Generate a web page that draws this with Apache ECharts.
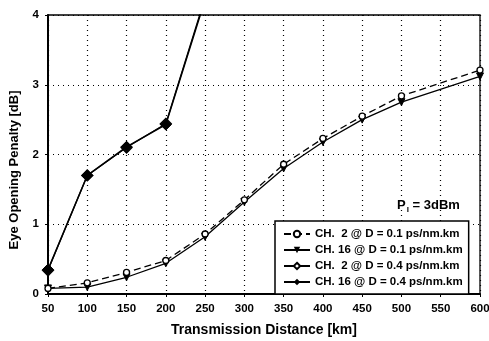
<!DOCTYPE html>
<html><head><meta charset="utf-8">
<script src="https://cdn.jsdelivr.net/npm/echarts@6/dist/echarts.min.js"></script>
<style>html,body{margin:0;padding:0;background:#fff}#c{width:489px;height:341px}</style>
</head><body><div id="c"></div>
<script>
const distances = [50,100,150,200,250,300,350,400,450,500,600];
const ch2_01  = [0.08,0.16,0.31,0.48,0.86,1.35,1.86,2.23,2.55,2.84,3.21];
const ch16_01 = [0.08,0.10,0.24,0.44,0.82,1.32,1.80,2.18,2.50,2.75,3.12];
const distances04 = [50,100,150,200,250];
const ch2_04  = [0.34,1.70,2.10,2.44,4.25];
const ch16_04 = [0.35,1.70,2.11,2.43,4.22];
const names = ['CH.  2 @ D = 0.1 ps/nm.km','CH. 16 @ D = 0.1 ps/nm.km','CH.  2 @ D = 0.4 ps/nm.km','CH. 16 @ D = 0.4 ps/nm.km'];
const xTicks = [50,100,150,200,250,300,350,400,450,500,550,600];
const yTicks = [0,1,2,3,4];

const pair = (xs, ys) => xs.map((x,i)=>[x,ys[i]]);
const font = 'Arial, "Liberation Sans", sans-serif';
const chart = echarts.init(document.getElementById('c'));
chart.setOption({
  animation:false,
  backgroundColor:'#fff',
  grid:{left:48,right:9,top:15,bottom:47,outerBoundsMode:'none',containLabel:false},
  xAxis:{type:'value',min:50,max:600,interval:50,
    name:'Transmission Distance [km]',nameLocation:'middle',nameGap:29,
    nameTextStyle:{fontFamily:font,fontWeight:'bold',fontSize:14,color:'#000'},
    axisLine:{lineStyle:{color:'#000',width:2}},
    axisTick:{show:true,length:3,inside:false,lineStyle:{color:'#000'}},
    axisLabel:{fontFamily:font,fontWeight:'bold',fontSize:11.5,color:'#000',margin:9},
    splitLine:{show:true,lineStyle:{color:'#000',type:[1,4],width:1.2}}},
  yAxis:{type:'value',min:0,max:4,interval:1,
    axisLine:{show:true,lineStyle:{color:'#000',width:2}},
    axisTick:{show:true,length:3,lineStyle:{color:'#000'}},
    axisLabel:{fontFamily:font,fontWeight:'bold',fontSize:11.5,color:'#000',margin:9},
    splitLine:{show:true,lineStyle:{color:'#000',type:[1,4],width:1.2}}},
  legend:{orient:'vertical',left:275,top:221,width:202,
    itemWidth:26,itemHeight:8,itemGap:4,
    padding:[7,6,6,8],
    borderColor:'#000',borderWidth:1.5,backgroundColor:'#fff',
    textStyle:{fontFamily:font,fontWeight:'bold',fontSize:11.5,color:'#000'},
    data:names},
  graphic:[
    {type:'rect',shape:{x:48,y:15,width:432,height:279},style:{fill:'none',stroke:'#000',lineWidth:1.3},silent:true,z:-1},
    {type:'text',x:14,y:170,rotation:Math.PI/2,style:{text:'Eye Opening Penalty [dB]',fontFamily:font,fontWeight:'bold',fontSize:13,fill:'#000',align:'center',verticalAlign:'middle'}},
    {type:'text',left:397,top:199,style:{text:'{a|P}{b|I}{a| = 3dBm}',rich:{a:{fontFamily:font,fontWeight:'bold',fontSize:13,fill:'#000'},b:{fontFamily:font,fontWeight:'bold',fontSize:8,fill:'#000',verticalAlign:'bottom',padding:[8,0,0,1]}}}}
  ],
  series:[
    {name:names[0],type:'line',data:pair(distances,ch2_01),symbol:'circle',symbolSize:6,
     itemStyle:{color:'#fff',borderColor:'#000',borderWidth:1.3},lineStyle:{color:'#000',width:1.3,type:[7,4]},z:3},
    {name:names[1],type:'line',data:pair(distances,ch16_01),symbol:'triangle',symbolRotate:180,symbolSize:7,
     itemStyle:{color:'#000',borderColor:'#000'},lineStyle:{color:'#000',width:1.3},z:2},
    {name:names[2],type:'line',data:pair(distances04,ch2_04),symbol:'diamond',symbolSize:11,
     itemStyle:{color:'#fff',borderColor:'#000',borderWidth:1.3},lineStyle:{color:'#000',width:1.3},z:2},
    {name:names[3],type:'line',data:pair(distances04,ch16_04),symbol:'diamond',symbolSize:11,
     itemStyle:{color:'#000',borderColor:'#000'},lineStyle:{color:'#000',width:1.5},z:3}
  ]
});
</script></body></html>
